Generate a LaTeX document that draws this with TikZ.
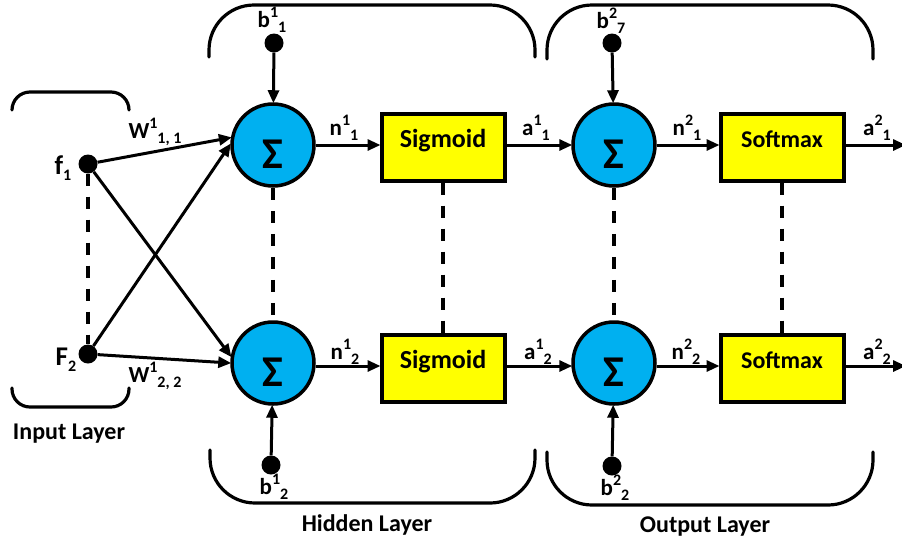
\documentclass[tikz,border=0pt]{standalone}
\usepackage{fontspec}
\setmainfont{Carlito}
\usetikzlibrary{arrows.meta}
\definecolor{sumblue}{RGB}{0,176,240}
\definecolor{actyellow}{RGB}{255,255,0}
% base letter followed by a staggered superscript and subscript
\newcommand\supsub[3]{#1\raisebox{0.42em}{\fontsize{16}{16}\selectfont #2}\raisebox{-0.22em}{\fontsize{16}{16}\selectfont #3}}
\begin{document}
\begin{tikzpicture}[x=1pt,y=-1pt,
  font=\bfseries\fontsize{23}{25}\selectfont,
  sumnode/.style={circle, draw, line width=3.5pt, fill=sumblue, minimum size=82pt, inner sep=0pt,
    font=\bfseries\fontsize{44}{44}\selectfont},
  actbox/.style={rectangle, draw, line width=4pt, fill=actyellow, minimum width=123pt, minimum height=67pt,
    inner sep=0pt},
  biasdot/.style={circle, fill=black, minimum size=19pt, inner sep=0pt},
  wire/.style={line width=3pt, -{Triangle[length=13pt,width=11pt]}, shorten >=-1pt},
  dashlink/.style={line width=3.5pt, dash pattern=on 12pt off 11pt},
  bracket/.style={line width=3.2pt, line cap=round},
  lbl/.style={inner sep=0pt},
  layer/.style={inner sep=0pt, font=\bfseries\fontsize{24}{24}\selectfont}]
\useasboundingbox (0,0) rectangle (902,542);

% input layer
\node[biasdot] (f1) at (88,164) {};
\node[biasdot] (f2) at (88,354) {};
\node[lbl, font=\bfseries\fontsize{27}{27}\selectfont] (f1t) at (63,168) {\supsub{f}{}{1}};
\node[lbl, font=\bfseries\fontsize{27}{27}\selectfont] (f2t) at (66,360) {\supsub{F}{}{2}};
\draw[dashlink] (f1) -- (f2);

% hidden layer
\node[sumnode] (s1) at (273,145) {\raisebox{-23pt}[0pt][0pt]{Σ}};
\node[sumnode] (s2) at (273,363) {\raisebox{-23pt}[0pt][0pt]{Σ}};
\node[actbox, font=\bfseries\fontsize{26}{26}\selectfont] (g1) at (443,147) {\smash{Sigmoid}};
\node[actbox, font=\bfseries\fontsize{26}{26}\selectfont] (g2) at (443,368) {\smash{Sigmoid}};
\node[biasdot] (b1) at (274,43) {};
\node[biasdot] (b2) at (271,465) {};

% output layer
\node[sumnode] (o1) at (614,145) {\raisebox{-23pt}[0pt][0pt]{Σ}};
\node[sumnode] (o2) at (614,363) {\raisebox{-23pt}[0pt][0pt]{Σ}};
\node[actbox, font=\bfseries\fontsize{24}{24}\selectfont] (m1) at (782,147) {\smash{Softmax}};
\node[actbox, font=\bfseries\fontsize{24}{24}\selectfont] (m2) at (782,368) {\smash{Softmax}};
\node[biasdot] (c1) at (612,43) {};
\node[biasdot] (c2) at (612,466) {};
\coordinate (y1) at (905,145);
\coordinate (y2) at (905,366);

% weighted inputs
\draw[wire] (f1) -- (s1.170);
\draw[wire] (f1) -- (s2.171);
\draw[wire] (f2) -- (s1.179);
\draw[wire] (f2) -- (s2.180);

% biases
\draw[wire] (b1) -- (s1);
\draw[wire] (b2) -- (s2);
\draw[wire] (c1) -- (o1);
\draw[wire] (c2) -- (o2);

% forward signals
\draw[wire] (s1.east) -- (s1.east -| g1.west);
\draw[wire] (s2.east |- 0,366) -- (g2.west |- 0,366);
\draw[wire] (g1.east |- 0,145) -- (o1.west);
\draw[wire] (g2.east |- 0,366) -- (o2.west |- 0,366);
\draw[wire] (o1.east) -- (o1.east -| m1.west);
\draw[wire] (o2.east |- 0,366) -- (m2.west |- 0,366);
\draw[wire] (m1.east |- 0,145) -- (y1);
\draw[wire] (m2.east |- 0,366) -- (y2);

% elided neurons
\draw[dashlink] (s1) -- (s2);
\draw[dashlink] (g1) -- (g2);
\draw[dashlink] (o1) -- (o2);
\draw[dashlink] (m1) -- (m2);

% labels
\node[lbl] (w11) at (155,132) {\supsub{W}{1}{1, 1}};
\node[lbl] (w22) at (155,376) {\supsub{W}{1}{2, 2}};
\node[lbl] (bt1) at (272,20) {\supsub{b}{1}{1}};
\node[lbl] (bt2) at (274,487) {\supsub{b}{1}{2}};
\node[lbl] (ct1) at (611,21) {\supsub{b}{2}{7}};
\node[lbl] (ct2) at (615,488) {\supsub{b}{2}{2}};
\node[lbl] (n11) at (344,128) {\supsub{n}{1}{1}};
\node[lbl] (n12) at (345,352) {\supsub{n}{1}{2}};
\node[lbl] (a11) at (536,128) {\supsub{a}{1}{1}};
\node[lbl] (a12) at (538,352) {\supsub{a}{1}{2}};
\node[lbl] (n21) at (687,128) {\supsub{n}{2}{1}};
\node[lbl] (n22) at (686,352) {\supsub{n}{2}{2}};
\node[lbl] (a21) at (877,128) {\supsub{a}{2}{1}};
\node[lbl] (a22) at (877,352) {\supsub{a}{2}{2}};

% layer brackets
\draw[bracket, rounded corners=18pt] (12,110) -- (12,92) -- (129,92) -- (129,110);
\draw[bracket, rounded corners=18pt] (12,388) -- (12,407) -- (129,407) -- (129,388);
\draw[bracket, rounded corners=45pt] (209,57) -- (209,5) -- (535,5) -- (535,57);
\draw[bracket, rounded corners=45pt] (210,450) -- (210,503) -- (535,503) -- (535,450);
\draw[bracket, rounded corners=45pt] (547,59) -- (547,5) -- (873,5) -- (873,59);
\draw[bracket, rounded corners=45pt] (547,452) -- (547,505) -- (873,505) -- (873,452);

\node[layer] (inl) at (69,434) {Input Layer};
\node[layer] (hid) at (367,525) {Hidden Layer};
\node[layer] (outl) at (705,527) {Output Layer};
\end{tikzpicture}
\end{document}
